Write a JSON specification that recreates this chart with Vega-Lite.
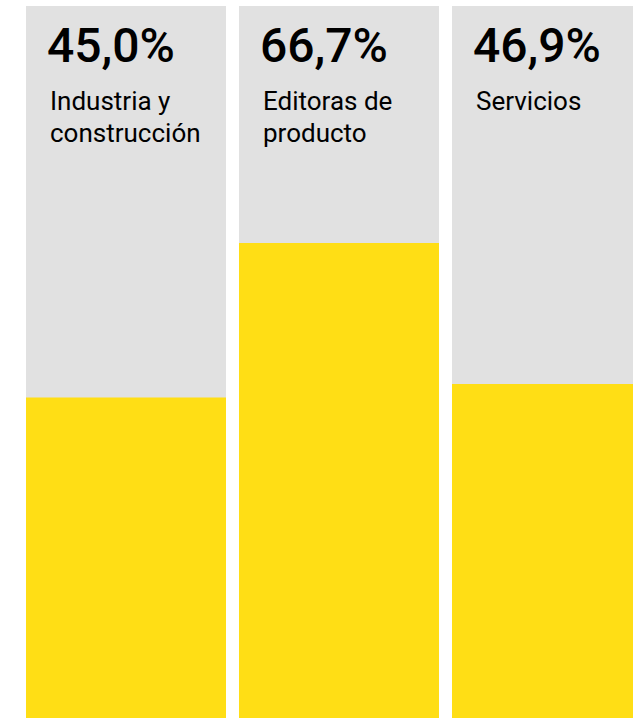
{
  "$schema": "https://vega.github.io/schema/vega-lite/v6.json",
  "width": 613.5,
  "height": 712,
  "autosize": "none",
  "padding": {"left": 19.5, "top": 6, "right": 0, "bottom": 0},
  "data": {"values": [
    {"sector": "Industria y construcción", "label": "Industria y\nconstrucción", "pct": 45.0, "pctText": "45,0%", "total": 100},
    {"sector": "Editoras de producto", "label": "Editoras de\nproducto", "pct": 66.7, "pctText": "66,7%", "total": 100},
    {"sector": "Servicios", "label": "Servicios", "pct": 46.9, "pctText": "46,9%", "total": 100}
  ]},
  "encoding": {
    "x": {"field": "sector", "type": "nominal", "sort": null,
          "scale": {"range": [0, 639], "paddingInner": 0.061, "paddingOuter": 0.0305}, "axis": null}
  },
  "layer": [
    {"mark": {"type": "bar", "color": "#E1E1E1", "clip": true},
     "encoding": {"y": {"field": "total", "type": "quantitative", "scale": {"domain": [0, 100]}, "axis": null}}},
    {"mark": {"type": "bar", "color": "#FFDE15", "clip": true},
     "encoding": {"y": {"field": "pct", "type": "quantitative"}}},
    {"mark": {"type": "text", "align": "left", "baseline": "alphabetic", "font": "Roboto", "fontSize": 48, "fontWeight": 500, "dx": 21, "dy": 56, "color": "#000000"},
     "encoding": {"x": {"field": "sector", "type": "nominal", "sort": null, "bandPosition": 0},
                  "y": {"datum": 100}, "text": {"field": "pctText"}}},
    {"mark": {"type": "text", "align": "left", "baseline": "alphabetic", "font": "Roboto", "fontSize": 26, "lineBreak": "\n", "lineHeight": 32, "dx": 24, "dy": 104, "color": "#000000"},
     "encoding": {"x": {"field": "sector", "type": "nominal", "sort": null, "bandPosition": 0},
                  "y": {"datum": 100}, "text": {"field": "label"}}}
  ],
  "config": {"view": {"stroke": null}}
}
